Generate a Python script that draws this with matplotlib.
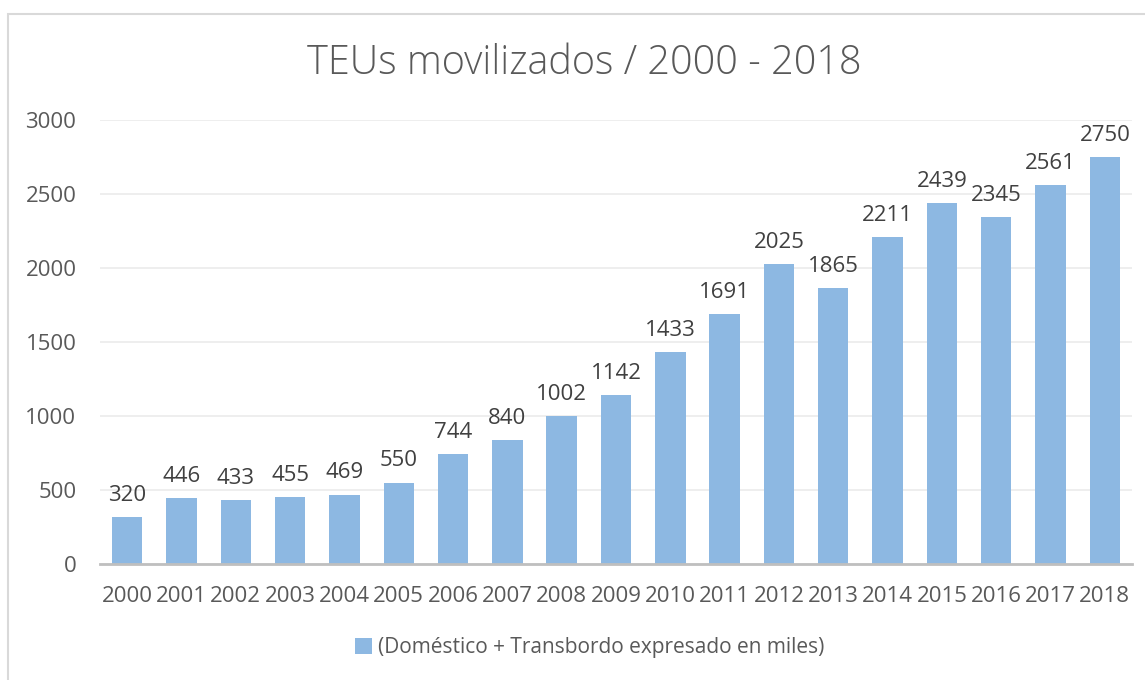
import matplotlib.pyplot as plt
from matplotlib.patches import Rectangle

years = [str(y) for y in range(2000, 2019)]
teus = [320, 446, 433, 455, 469, 550, 744, 840, 1002, 1142, 1433, 1691,
        2025, 1865, 2211, 2439, 2345, 2561, 2750]
y_ticks = [0, 500, 1000, 1500, 2000, 2500, 3000]

bar_color = '#8DB8E2'
text_color = '#595959'
plt.rcParams['font.family'] = ['Open Sans', 'DejaVu Sans']

W, H = 1145, 680
fig = plt.figure(figsize=(W / 100, H / 100), dpi=100)

# chart border
fig.patches.append(Rectangle((8 / W, -0.1), 1.2, 1 - 14 / H + 0.1,
                             transform=fig.transFigure, fill=False,
                             edgecolor='#D9D9D9', linewidth=1.5))

ax = fig.add_axes([100 / W, (H - 564) / H, (1132 - 100) / W, (564 - 120) / H])
x = range(len(years))
bars = ax.bar(x, teus, width=0.56, color=bar_color, zorder=2)
ax.set_xlim(-0.5, len(years) - 0.5)
ax.set_ylim(0, 3000)
ax.set_yticks(y_ticks)
ax.set_xticks(list(x))
ax.set_xticklabels(years)
ax.grid(axis='y', color='#EBEBEB', linewidth=1.2, zorder=0)
for s in ['top', 'right', 'left']:
    ax.spines[s].set_visible(False)
ax.spines['bottom'].set_color('#BFBFBF')
ax.spines['bottom'].set_linewidth(2)
ax.tick_params(axis='both', length=0, labelsize=16, colors=text_color)
ax.tick_params(axis='y', pad=17)
ax.tick_params(axis='x', pad=16)

for xi, v in zip(x, teus):
    ax.annotate(str(v), (xi, v), xytext=(0, 8), textcoords='offset points',
                ha='center', va='bottom', fontsize=16, color='#404040')

fig.text(584 / W, 1 - 63 / H, 'TEUs movilizados / 2000 - 2018', ha='center',
         va='center', fontsize=28.5, color=text_color, fontweight='light')

ax.legend([bars], ['(Doméstico + Transbordo expresado en miles)'],
          loc='center', bbox_to_anchor=(590 / W, 1 - 648 / H),
          bbox_transform=fig.transFigure, frameon=False, fontsize=15,
          labelcolor=text_color, handlelength=0.8, handleheight=0.8,
          handletextpad=0.3)

fig.savefig('out.png', dpi=100)
